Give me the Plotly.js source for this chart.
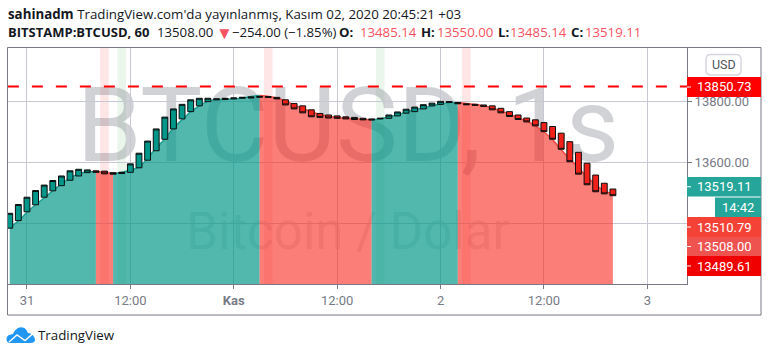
<!DOCTYPE html>
<html><head><meta charset="utf-8">
<script src="https://cdn.plot.ly/plotly-3.0.1.min.js"></script>
<style>html,body{margin:0;padding:0;background:#fff}#c{width:768px;height:355px}</style>
</head><body><div id="c"></div>
<script>
// Hourly bars, first bar 2020-10-30 22:00
const startHour = '2020-10-30T22:00:00Z';
const opens = [13384,13409,13438,13461,13486,13507,13524,13542,13556,13567,13573,13572,13567,13564,13568,13583,13608,13639,13677,13711,13744,13768,13787,13801,13807,13808,13810,13812,13813,13815,13818,13815,13807,13795,13787,13774,13762,13757,13754,13751,13749,13746,13744,13744,13746,13754,13763,13768,13777,13787,13792,13798,13798,13794,13792,13790,13787,13779,13768,13757,13747,13741,13732,13719,13697,13669,13634,13598,13559,13532,13513];
const closes = [13433,13462,13486,13508,13526,13541,13556,13573,13578,13576,13568,13563,13562,13568,13596,13631,13671,13711,13750,13777,13792,13807,13812,13812,13810,13812,13813,13815,13816,13818,13815,13810,13790,13777,13764,13751,13749,13747,13746,13744,13742,13741,13741,13746,13757,13767,13776,13783,13791,13796,13802,13801,13794,13791,13789,13785,13774,13764,13752,13742,13734,13721,13702,13677,13644,13603,13562,13527,13504,13497,13491];
const smooth = [13385,13408,13436,13461,13484,13507,13530,13550,13563,13569,13571,13568,13563,13568,13576,13584,13615,13648,13678,13714,13741,13767,13787,13802,13807,13808,13810,13813,13818,13821,13818,13813,13803,13790,13779,13767,13759,13752,13749,13746,13744,13742,13741,13744,13751,13757,13767,13774,13780,13787,13793,13797,13798,13795,13792,13787,13780,13770,13760,13747,13737,13721,13701,13675,13642,13612,13583,13553,13527,13507,13497];
const trendBreaks = [0,10,12,29,42,52,70];
const redBandBars = [11,30,53];
const greenBandBars = [13,43];
const resistance = 13850.73;
const tickDates = ['2020-10-31','2020-10-31 12:00','2020-11-01','2020-11-01 12:00','2020-11-02','2020-11-02 12:00','2020-11-03'];
const tickLabels = ['31','12:00','<b>Kas</b>','12:00','2','12:00','3'];
const priceTicks = [13400,13600,13800];
const priceTickLabels = ['','13600.00','13800.00'];
const priceTags = [
  {text:'13850.73',top:77,bottom:97,left:687,color:'#ff0000'},
  {text:'13519.11',top:177,bottom:196.5,left:687,color:'#26a69a'},
  {text:'14:42',top:197.5,bottom:217,left:715,color:'#26a69a'},
  {text:'13510.79',top:217,bottom:237,left:687,color:'#f44336'},
  {text:'13508.00',top:237,bottom:256,left:687,color:'#ef5350'},
  {text:'13489.61',top:256,bottom:276,left:687,color:'#f00000'}
];

const base = new Date(startHour).getTime();
const hour = 3600000;
const iso = ms => new Date(ms).toISOString().slice(0,19).replace('T',' ');
const times = opens.map((_, i) => iso(base + i*hour));
const highs = opens.map((o,i)=>Math.max(o,closes[i]));
const lows = opens.map((o,i)=>Math.min(o,closes[i]));

const L=7,R=687,T=47,B=284;
const px = x => (x-L)/(R-L);
const py = y => 1-(y-T)/(B-T);
const tealFill='rgba(0,150,136,0.68)', redFill='rgba(250,40,30,0.6)';
const tealLine='#1f9e92', redLine='#f2483f';

const traces=[];
for(let s=0;s<trendBreaks.length-1;s++){
  const a=trendBreaks[s], b=trendBreaks[s+1];
  const up = s%2===0;
  traces.push({type:'scatter',mode:'lines',x:times.slice(a,b+1),y:smooth.slice(a,b+1),
    fill:'tozeroy',fillcolor:up?tealFill:redFill,line:{color:up?tealLine:redLine,width:1.5,shape:'spline',smoothing:0.6},
    hoverinfo:'skip',showlegend:false});
}
traces.push({type:'candlestick',x:times,open:opens,high:highs,low:lows,close:closes,whiskerwidth:0,yaxis:'y2',
  increasing:{line:{color:'#0c0f0f',width:1},fillcolor:'#009688'},
  decreasing:{line:{color:'#0c0f0f',width:1},fillcolor:'#f0211a'},showlegend:false});
traces.push({type:'scatter',mode:'lines',x:['2020-10-30 19:00','2020-11-03 12:00'],y:[resistance,resistance],yaxis:'y2',
  line:{color:'#ff0000',width:2,dash:'11px,13px'},hoverinfo:'skip',showlegend:false});

const shapes=[];
const band=(k,color)=>shapes.push({type:'rect',layer:'below',xref:'x',yref:'paper',x0:iso(base+(k-0.5)*hour),x1:iso(base+(k+0.5)*hour),y0:0,y1:1,fillcolor:color,line:{width:0}});
redBandBars.forEach(k=>band(k,'rgba(255,60,60,0.13)'));
greenBandBars.forEach(k=>band(k,'rgba(60,170,80,0.11)'));
const water=(text,size,x0,x1,y0,y1,color)=>shapes.push({type:'rect',layer:'below',xref:'paper',yref:'paper',x0:px(x0),x1:px(x1),y0:py(y1),y1:py(y0),fillcolor:'rgba(0,0,0,0)',line:{width:0},
  label:{text:text,textposition:'middle center',font:{family:'Roboto',size:size,color:color},padding:0}});
water('BTCUSD, 1s',104,38,658,74,160,'rgba(120,123,134,0.34)');
water('Bitcoin / Dolar',51,148,548,200,254,'rgba(120,123,134,0.2)');
// frame
shapes.push({type:'rect',xref:'paper',yref:'paper',x0:px(7.5),x1:px(761),y0:py(315),y1:py(47.5),line:{color:'#787b86',width:1},fillcolor:'rgba(0,0,0,0)'});
// USD button
const rr=(x0,y0,x1,y1,r)=>`M${px(x0+r)} ${py(y0)} L${px(x1-r)} ${py(y0)} Q${px(x1)} ${py(y0)} ${px(x1)} ${py(y0+r)} L${px(x1)} ${py(y1-r)} Q${px(x1)} ${py(y1)} ${px(x1-r)} ${py(y1)} L${px(x0+r)} ${py(y1)} Q${px(x0)} ${py(y1)} ${px(x0)} ${py(y1-r)} L${px(x0)} ${py(y0+r)} Q${px(x0)} ${py(y0)} ${px(x0+r)} ${py(y0)} Z`;
shapes.push({type:'path',xref:'paper',yref:'paper',path:rr(706,54.5,741,75,5),line:{color:'#d6d8e0',width:1.5},fillcolor:'#fff'});
// price tags
priceTags.forEach(t=>{
  shapes.push({type:'rect',xref:'paper',yref:'paper',x0:px(t.left),x1:px(761),y0:py(t.bottom),y1:py(t.top),fillcolor:t.color,line:{width:0}});
  if(t.left===687) shapes.push({type:'line',xref:'paper',yref:'paper',x0:px(687),x1:px(691),y0:py((t.top+t.bottom)/2),y1:py((t.top+t.bottom)/2),line:{color:'#fff',width:1}});
});
// logo
const pth=(cmds)=>cmds.map(c=>typeof c==='string'?c:`${px(c[0])} ${py(c[1])}`).join(' ');
shapes.push({type:'path',xref:'paper',yref:'paper',line:{width:0},fillcolor:'#2196f3',
 path:pth(['M',[10,343],'C',[5.5,343],[5.5,336.5],[9,335],'L',[13,334],'C',[15,329.5],[19,326.5],[22,327.5],'C',[25,327],[27,330.5],[28,333],'C',[32,333],[35,337],[35,340],'C',[35,342],[33,343],[31,343],'Z'])});
shapes.push({type:'path',xref:'paper',yref:'paper',line:{color:'#fff',width:1.4},
 path:pth(['M',[9,342],'L',[17,335],'L',[25,340.5],'L',[33,333.5]])});

const ann=[];
const textAt=(x,y,text,size,color,family,anchor)=>ann.push({xref:'paper',yref:'paper',x:px(x),y:py(y),text:text,showarrow:false,xanchor:anchor||'left',yanchor:'middle',borderpad:0,
  font:{family:family||'Open Sans',size:size,color:color||'#131722'}});
textAt(7,14,"<b>sahinadm</b> TradingView.com'da yayınlanmış, Kasım 02, 2020 20:45:21 +03",13.3);
const dn='#f7525f';
textAt(7,32,'<b>BITSTAMP:BTCUSD, 60</b>',13);
textAt(156,32,'13508.00',13.2);
textAt(214.5,32,'▼',17,dn);
textAt(231,32,'−254.00 (−1.85%)',13.2);
textAt(338,32,'<b>O:</b>',13.2); textAt(358.5,32,'13485.14',13.2,dn);
textAt(420,32,'<b>H:</b>',13.2); textAt(435.5,32,'13550.00',13.2,dn);
textAt(497,32,'<b>L:</b>',13.2); textAt(509,32,'13485.14',13.2,dn);
textAt(570,32,'<b>C:</b>',13.2); textAt(584,32,'13519.11',13.2,dn);
textAt(723.5,64.5,'USD',12.5,'#50535e','Roboto','center');
priceTags.forEach(t=>textAt(t.left===687?724:738,(t.top+t.bottom)/2,t.text,13,'#fff','Roboto','center'));
textAt(37,335,'TradingView',13.3,'#131722','Open Sans');

const axisFont={family:'Roboto',size:13,color:'#787b86'};
const layout={width:768,height:355,paper_bgcolor:'#fff',plot_bgcolor:'#fff',showlegend:false,boxgap:0.32,boxgroupgap:0,boxmode:'overlay',
  margin:{l:L,r:768-R,t:T,b:355-B,pad:0},
  xaxis:{type:'date',range:['2020-10-30 21:41','2020-11-03 04:36'],tickmode:'array',tickvals:tickDates,ticktext:tickLabels,
    rangeslider:{visible:false},showgrid:true,gridcolor:'#c8c8d4',gridwidth:1,zeroline:false,showline:true,linecolor:'#787b86',linewidth:1,
    ticks:'outside',ticklen:4,tickcolor:'#787b86',tickfont:axisFont,fixedrange:true},
  yaxis:{side:'right',range:[13200,13981],tickmode:'array',tickvals:priceTicks,ticktext:priceTickLabels,showgrid:true,gridcolor:'#c8c8d4',gridwidth:1,
    zeroline:false,showline:true,linecolor:'#787b86',linewidth:1,ticks:'outside',ticklen:4,tickcolor:'#787b86',tickfont:axisFont,fixedrange:true},
  yaxis2:{overlaying:'y',side:'right',range:[13200,13981],visible:false,showgrid:false,zeroline:false,fixedrange:true},
  shapes:shapes,annotations:ann};
Plotly.newPlot('c',traces,layout,{displayModeBar:false,staticPlot:true});
</script></body></html>
